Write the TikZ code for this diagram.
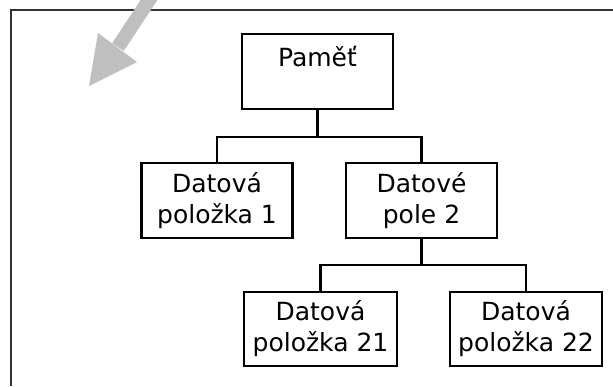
\documentclass[tikz,border=0pt]{standalone}
\usepackage{fontspec}
\setmainfont{DejaVu Sans}
\begin{document}
\begin{tikzpicture}[x=1pt,y=-1pt,
  boxnode/.style={draw=black, line width=2.7pt, rectangle, inner sep=0pt,
    align=center, font=\fontsize{25}{31}\selectfont},
  conn/.style={draw=black, line width=2.7pt}]
\useasboundingbox (0,0) rectangle (613,386);
\fill[white] (0,0) rectangle (613,386);
% frame
\draw[black!80, line width=1.5pt] (613,10) -- (11,10) -- (11,386);
% grey arrow
\coordinate (as) at (153,-6);
\coordinate (ab) at (118,47);
\draw[black!25, line width=14pt] (as) -- (ab);
\fill[black!25] (89,86) -- (98,33) -- (137,62) -- cycle;
% boxes
\node[boxnode, minimum width=151pt, minimum height=75pt] (pam) at (317.5,71.5) {Paměť\\[0pt]~};
\node[boxnode, minimum width=151pt, minimum height=75pt] (d1) at (217,200.5) {Datová\\položka 1};
\node[boxnode, minimum width=151pt, minimum height=75pt] (d2) at (421.5,200.5) {Datové\\pole 2};
\node[boxnode, minimum width=153pt, minimum height=74pt] (d21) at (320.5,329) {Datová\\položka 21};
\node[boxnode, minimum width=152pt, minimum height=74pt] (d22) at (526,329) {Datová\\položka 22};
% connectors
\coordinate (j1) at (317.5,137);
\coordinate (j2) at (421.5,265);
\draw[conn] (pam.south) -- (j1);
\draw[conn] (d1.north) |- (j1) -| (d2.north);
\draw[conn] (d2.south) -- (j2);
\draw[conn] (d21.north) |- (j2) -| (d22.north);
\end{tikzpicture}
\end{document}
